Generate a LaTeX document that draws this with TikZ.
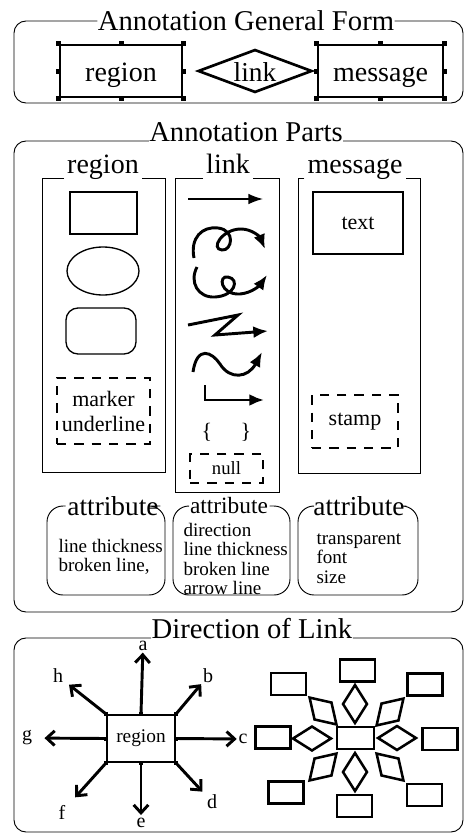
\documentclass[tikz,border=0pt]{standalone}
\usepackage{fontspec}
\setmainfont{Liberation Serif}
\usetikzlibrary{arrows.meta,shapes.geometric}

\tikzset{every picture/.style={line width=0.75pt}}
\tikzset{
  frm/.style={line width=0.7pt, rounded corners=9pt},
  colbox/.style={line width=0.7pt},
  ttl/.style={font=\fontsize{21.5}{25}\selectfont, inner sep=0pt},
  hd/.style={font=\fontsize{21}{25}\selectfont, inner sep=0pt, inner xsep=2pt, text depth=4pt, anchor=base},
  selbox/.style={draw, line width=2pt, minimum height=39pt, font=\fontsize{21}{25}\selectfont, text height=15pt, text depth=0pt},
  plain/.style={draw, line width=1pt},
  dbox/.style={draw, line width=1pt, dash pattern=on 7pt off 6pt},
  small/.style={font=\fontsize{16.5}{18.75}\selectfont},
  attr/.style={font=\fontsize{20.5}{22}\selectfont, inner sep=1pt},
  attrtxt/.style={font=\fontsize{14.3}{14.6}\selectfont, align=left, inner sep=0pt, anchor=west},
  curl/.style={line width=2.2pt, -{Latex[length=11pt,width=9pt]}},
  dirarr/.style={line width=2.2pt, -{Straight Barb[length=6pt,width=11pt]}},
  dirlbl/.style={font=\fontsize{15}{17}\selectfont, inner sep=1pt},
  tile/.style={draw, line width=1.9pt, minimum width=26.25pt, minimum height=16.5pt, inner sep=0pt},
  gem/.style={draw, line width=1.9pt, shape=diamond, minimum width=18.75pt, minimum height=29.25pt, inner sep=0pt},
}

\begin{document}
\begin{tikzpicture}[x=0.75pt,y=0.75pt,yscale=-1,xscale=1]
\useasboundingbox (0,0) rectangle (466,836);

% general form
\node[ttl] (gf) at (246,21) {Annotation General Form};
\draw[frm] (gf.west) -| (14,103) -- (463,103) |- (gf.east);
\node[selbox, minimum width=91.5pt] (selreg) at (121,71) {region};
\node[draw, line width=2pt, shape=diamond, minimum width=85.5pt, minimum height=32.25pt, inner sep=0pt,
      label={[font=\fontsize{20.5}{24}\selectfont, text height=15pt, text depth=0pt]center:link}] (sellnk) at (255,71) {};
\node[selbox, minimum width=93.75pt] (selmsg) at (380.5,71) {message};
\foreach \n in {selreg,selmsg}
  \foreach \a in {north west,north,north east,east,south east,south,south west,west}
    \fill (\n.\a) ++(-2.5,-2.5) rectangle ++(5,5);

% parts
\node[ttl, anchor=base] (pt) at (246,141) {Annotation Parts};
\draw[frm] (pt.base west) -| (14,612) -- (463,612) |- (pt.base east);

\node[hd] (hreg) at (103,173) {region};
\node[hd] (hlnk) at (228,173) {link};
\node[hd] (hmsg) at (355,173) {message};
\draw[colbox] (hreg.south west) -| (42,472) -- (165,472) |- (hreg.south east);
\draw[colbox] (hlnk.south west) -| (175,492) -- (279,492) |- (hlnk.south east);
\draw[colbox] (hmsg.south west) -| (298,473) -- (420,473) |- (hmsg.south east);

% region column
\node[plain, minimum width=50.25pt, minimum height=31.5pt] (rrect) at (103.5,213) {};
\node[plain, ellipse, minimum width=54pt, minimum height=36pt] (rell) at (103,271) {};
\node[plain, rounded corners=9pt, minimum width=52.5pt, minimum height=34.5pt] (rround) at (101,331) {};
\node[dbox, small, align=center, minimum width=69.75pt, minimum height=49.5pt] (rmark) at (103.5,411) {marker\\underline};

% link column
\draw[line width=1.1pt, -{Latex[length=11pt,width=8pt]}] (188,199) -- (263,199);
\draw[curl] (194,258) .. controls (190,238) and (202,226) .. (218,228) .. controls (236,230) and (232,251) .. (222,250) .. controls (210,249) and (222,229) .. (241,229) .. controls (252,229) and (260,237) .. (265,249);
\draw[curl] (197,267) .. controls (189,282) and (198,298) .. (215,297) .. controls (235,296) and (240,279) .. (228,277) .. controls (218,275) and (220,295) .. (240,294) .. controls (252,293) and (260,285) .. (267,275);
\draw[curl] (188,325) -- (238,315) -- (215,335) -- (268,331);
\draw[curl] (193,372) .. controls (197,345) and (212,352) .. (220,364) .. controls (230,380) and (248,378) .. (262,352);
\draw[curl] (205,385) |- (264,400);
\node[small] (lbr) at (207,432) {\{};
\node[small] (rbr) at (246,432) {\}};
\node[dbox, font=\fontsize{14}{16}\selectfont, minimum width=54.75pt, minimum height=21.75pt] (nul) at (226.5,468.5) {null};

% message column
\node[plain, small, minimum width=67.5pt, minimum height=46.5pt] (mtext) at (358,223) {text};
\node[dbox, small, minimum width=64.5pt, minimum height=39.75pt] (mstamp) at (355,421.5) {stamp};

% attributes
\foreach \i/\x/\l/\r/\s in {1/113/47/165/20.5, 2/229/173/290/17.5, 3/359/298/418/20.5} {
  \node[attr, font=\fontsize{\s}{22}\selectfont] (at\i) at (\x,506) {attribute};
  \draw[frm, rounded corners=12pt] (at\i.west) -| (\l,595) -- (\r,595) |- (at\i.east);
}
\node[attrtxt] (al1) at (58,557) {line thickness\\broken line,};
\node[attrtxt] (al2) at (183,559) {direction\\line thickness\\broken line\\arrow line};
\node[attrtxt] (al3) at (316,558.5) {transparent\\font\\size};

% direction of link
\node[ttl, anchor=base] (dl) at (252,638) {Direction of Link};
\draw[frm] (dl.base west) -| (14,832) -- (463,832) |- (dl.base east);

\node[draw, line width=1.9pt, minimum width=51pt, minimum height=35.25pt, font=\fontsize{14.5}{17}\selectfont] (dreg) at (141,738.5) {region};
\foreach \a in {north west,north,north east,east,south east,south,south west,west}
  \fill (dreg.\a) ++(-2,-2) rectangle ++(4,4);
\node[dirlbl] (la) at (143,646) {a};
\node[dirlbl] (lb) at (208,676) {b};
\node[dirlbl] (lc) at (243,739) {c};
\node[dirlbl] (ld) at (212,802) {d};
\node[dirlbl] (le) at (141,823) {e};
\node[dirlbl] (lf) at (62,812) {f};
\node[dirlbl] (lg) at (27,738) {g};
\node[dirlbl] (lh) at (58,676) {h};
\draw[dirarr] (dreg.north) -- (la);
\draw[dirarr] (dreg.north east) -- (lb);
\draw[dirarr] (dreg.east) -- (lc);
\draw[dirarr, shorten >=3pt] (dreg.south east) -- (ld);
\draw[dirarr, shorten >=1pt] (dreg.south) -- (le);
\draw[dirarr, shorten >=9pt] (dreg.south west) -- (lf);
\draw[dirarr, shorten >=8pt] (dreg.west) -- (lg);
\draw[dirarr, shorten >=4pt] (dreg.north west) -- (lh);

\node[tile, minimum width=27.75pt] (hub) at (355.5,738) {};
\node[tile] (bn) at (357.5,670.5) {};
\node[tile] (bs) at (354.5,806) {};
\node[tile] (bw) at (273,737.5) {};
\node[tile] (be) at (440,739) {};
\node[tile] (bnw) at (288.5,684) {};
\node[tile] (bne) at (425,684.5) {};
\node[tile] (bsw) at (286,792.5) {};
\node[tile] (bse) at (424.5,795) {};
\node[gem] (gn) at (355,704) {};
\node[gem] (gs) at (355,772) {};
\node[gem, rotate=90] (gw) at (312,738.5) {};
\node[gem, rotate=90] (ge) at (397,738) {};
\node[gem, rotate=45] (gnw) at (323,711) {};
\node[gem, rotate=-45] (gne) at (390,712) {};
\node[gem, rotate=-45] (gsw) at (323,767) {};
\node[gem, rotate=45] (gse) at (390,767) {};

\end{tikzpicture}
\end{document}
